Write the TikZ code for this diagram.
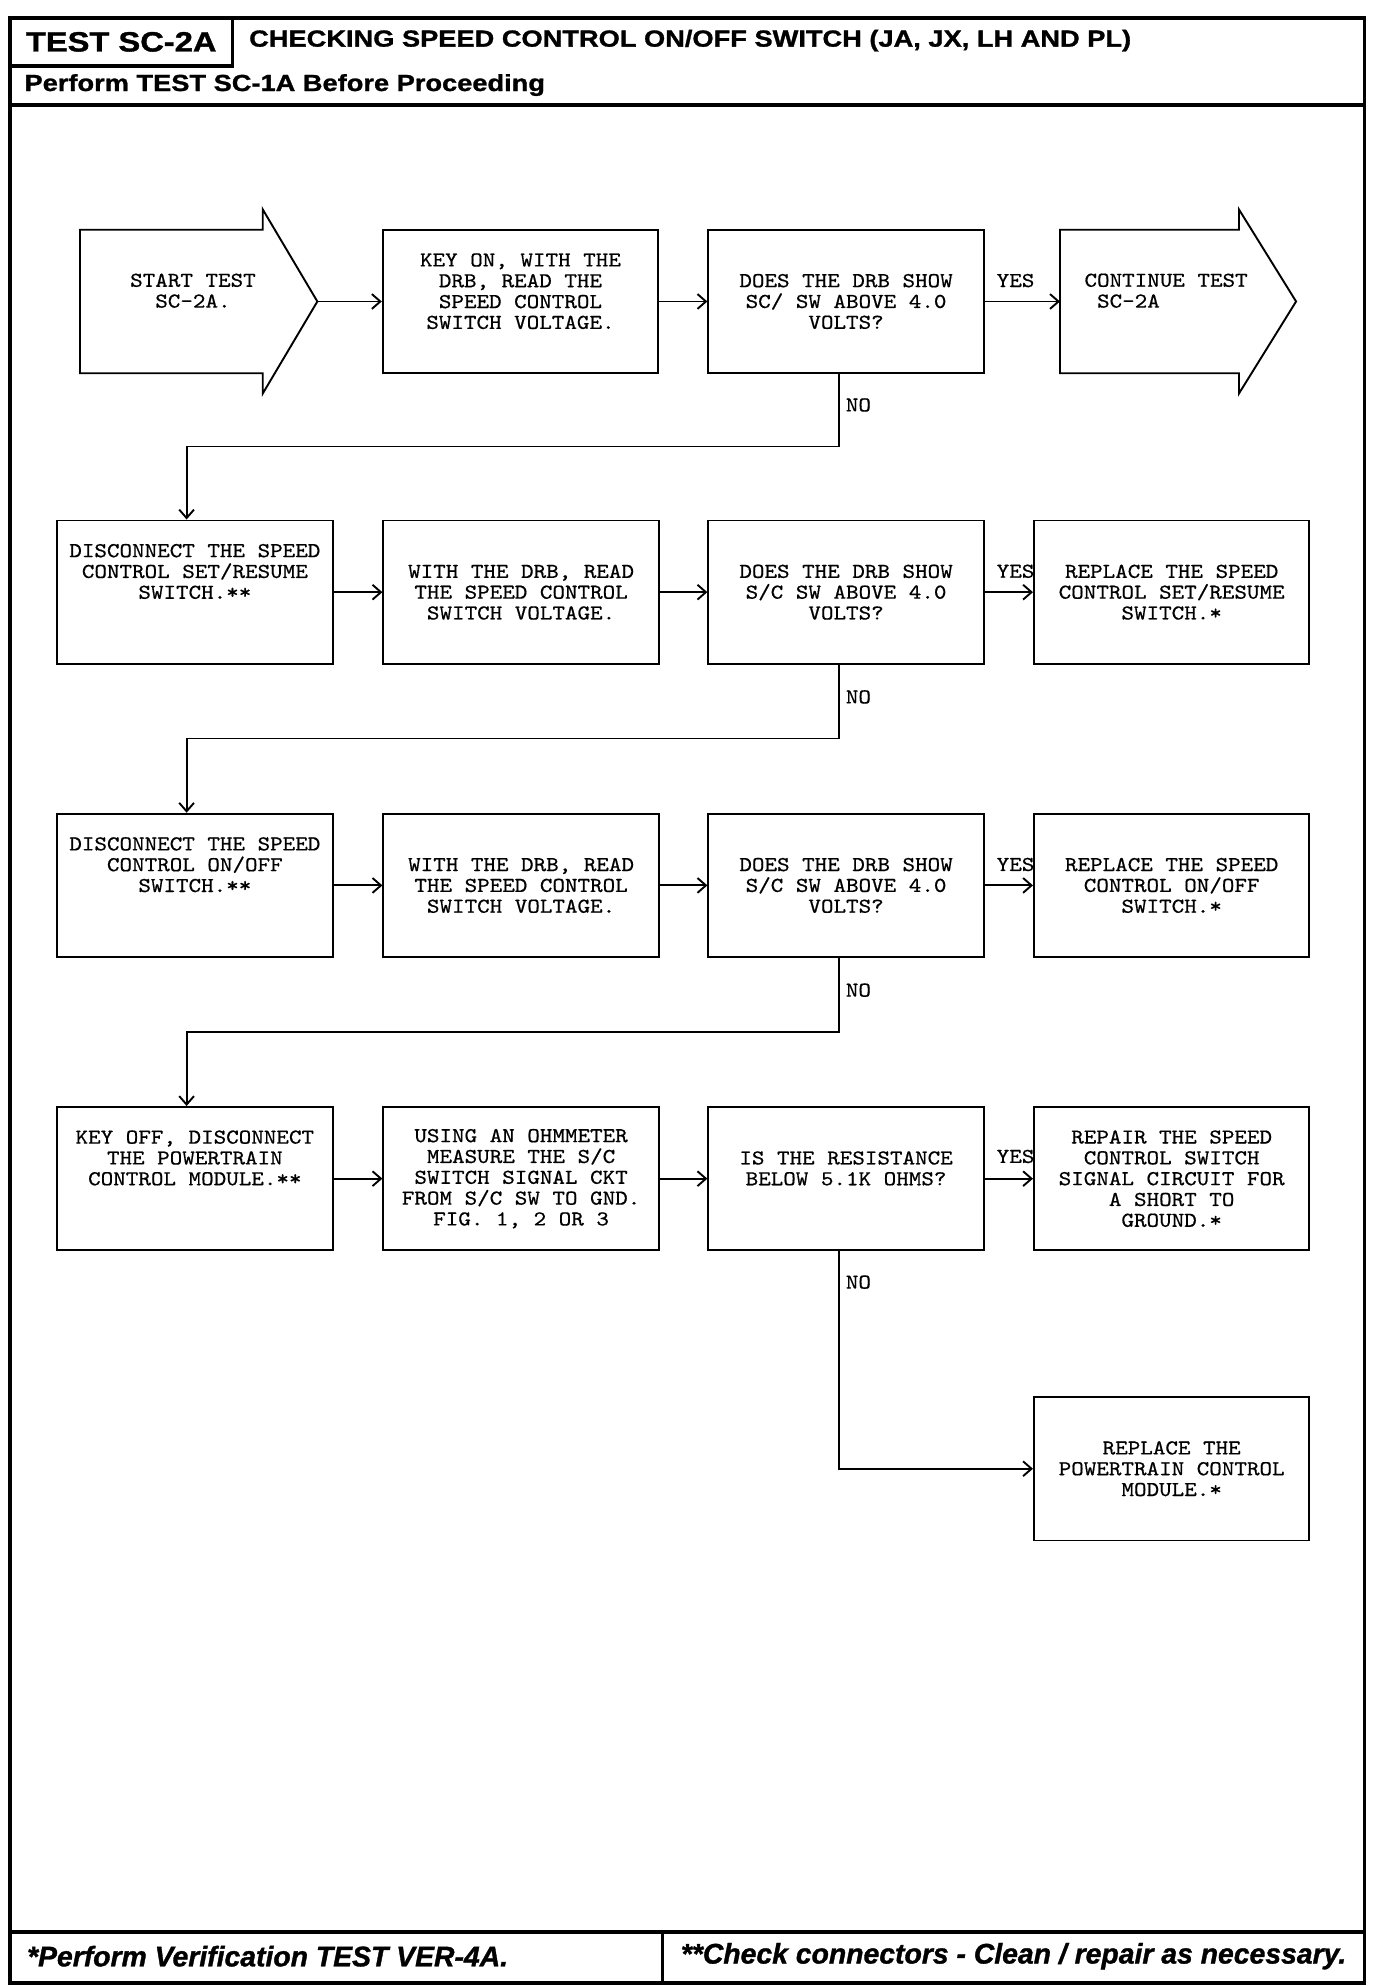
\documentclass[tikz,border=0pt]{standalone}
\usepackage{fontspec}
\newfontfamily\bxfam{lmmono10-regular}[Extension=.otf,FakeStretch=1.13,FakeBold=0.6]
\newfontfamily\hdfam{Liberation Sans}[FakeStretch=1.17,FakeBold=1.2]
\newfontfamily\ftfam{Liberation Sans}[FakeBold=1.2]
\newcommand\bxfont{\bxfam\fontsize{10pt}{9.84pt}\selectfont}
\usetikzlibrary{arrows.meta,calc}
\begin{document}
\begin{tikzpicture}[x=0.6pt,y=-0.6pt,
  box/.style={draw, line width=0.9pt, minimum width=130.2pt, minimum height=67.8pt, inner sep=0pt, align=center, font=\bxfont},
  shp/.style={draw, line width=0.9pt},
  conn/.style={line width=0.9pt, -{Straight Barb[length=4pt,width=7pt]}},
  lab/.style={font=\bxfont, inner sep=0pt},
  frm/.style={line width=1.7pt},
  hd/.style={inner sep=0pt, font=\hdfam\bfseries\fontsize{11pt}{12pt}\selectfont},
  ft/.style={inner sep=0pt, anchor=west, font=\ftfam\bfseries\itshape\fontsize{13.4pt}{14pt}\selectfont}]
\useasboundingbox (0,0) rectangle (1084,1564.5);
% frame
\draw[frm] (8,14) rectangle (1075,1562);
\draw[frm] (8,14) rectangle (183,52);
\draw[frm] (8,82.5) -- (1075,82.5);
\draw[frm] (8,1522) -- (1075,1522);
\draw[frm] (522,1522) -- (522,1562);
% header
\node[hd, font=\hdfam\bfseries\fontsize{13.2pt}{14pt}\selectfont] (hid) at (95.5,33) {TEST SC-2A};
\node[hd, anchor=west] (htitle) at (196,32) {CHECKING SPEED CONTROL ON/OFF SWITCH (JA, JX, LH AND PL)};
\node[hd, anchor=west] (hpre) at (19,67) {Perform TEST SC-1A Before Proceeding};
% footer
\node[ft] (f1) at (21,1541) {*Perform Verification TEST VER-4A.};
\node[ft] (f2) at (536,1541) {**Check connectors - Clean / repair as necessary.};
% row 1
\draw[shp] (63,181) -- (207,181) -- (207,165) -- (250,237.5) -- (207,310) -- (207,294) -- (63,294) -- cycle;
\node[lab, align=center] (s1) at (152,229) {START TEST\\SC-2A.};
\coordinate (s1tip) at (250,237.5);
\node[box] (b12) at (410,237.5) {KEY ON, WITH THE\\DRB, READ THE\\SPEED CONTROL\\SWITCH VOLTAGE.\\~};
\node[box] (b13) at (666.5,237.5) {DOES THE DRB SHOW\\SC/ SW ABOVE 4.0\\VOLTS?};
\draw[shp] (835,181) -- (976,181) -- (976,165) -- (1021,237.5) -- (976,310) -- (976,294) -- (835,294) -- cycle;
\node[lab, align=left, anchor=west] (s2) at (854,229) {CONTINUE TEST\\\ SC-2A};
\coordinate (s2in) at (835,237.5);
\draw[conn] (s1tip) -- (b12);
\draw[conn] (b12) -- (b13);
\draw[conn] (b13) -- (s2in);
\node[lab] (y1) at (800,221) {YES};
\node[lab, anchor=west] (n1) at (666,319) {NO};
% row 2
\node[box] (b21) at (153.5,466.5) {DISCONNECT THE SPEED\\CONTROL SET/RESUME\\SWITCH.**\\~\\~};
\node[box] (b22) at (410.5,466.5) {WITH THE DRB, READ\\THE SPEED CONTROL\\SWITCH VOLTAGE.};
\node[box] (b23) at (666.5,466.5) {DOES THE DRB SHOW\\S/C SW ABOVE 4.0\\VOLTS?};
\node[box] (b24) at (923,466.5) {REPLACE THE SPEED\\CONTROL SET/RESUME\\SWITCH.*};
\draw[conn] ([xshift=-3.3pt]b13.south) -- ++(0,57) -| ([xshift=-3.9pt]b21.north);
\draw[conn] (b21) -- (b22);
\draw[conn] (b22) -- (b23);
\draw[conn] (b23) -- (b24);
\node[lab] (y2) at (800,450) {YES};
\node[lab, anchor=west] (n2) at (666,549) {NO};
% row 3
\node[box] (b31) at (153.5,697.5) {DISCONNECT THE SPEED\\CONTROL ON/OFF\\SWITCH.**\\~\\~};
\node[box] (b32) at (410.5,697.5) {WITH THE DRB, READ\\THE SPEED CONTROL\\SWITCH VOLTAGE.};
\node[box] (b33) at (666.5,697.5) {DOES THE DRB SHOW\\S/C SW ABOVE 4.0\\VOLTS?};
\node[box] (b34) at (923,697.5) {REPLACE THE SPEED\\CONTROL ON/OFF\\SWITCH.*};
\draw[conn] ([xshift=-3.3pt]b23.south) -- ++(0,58) -| ([xshift=-3.9pt]b31.north);
\draw[conn] (b31) -- (b32);
\draw[conn] (b32) -- (b33);
\draw[conn] (b33) -- (b34);
\node[lab] (y3) at (800,681) {YES};
\node[lab, anchor=west] (n3) at (666,780) {NO};
% row 4
\node[box] (b41) at (153.5,928.5) {KEY OFF, DISCONNECT\\THE POWERTRAIN\\CONTROL MODULE.**\\~\\~};
\node[box] (b42) at (410.5,928.5) {USING AN OHMMETER\\MEASURE THE S/C\\SWITCH SIGNAL CKT\\FROM S/C SW TO GND.\\FIG. 1, 2 OR 3};
\node[box] (b43) at (666.5,928.5) {IS THE RESISTANCE\\BELOW 5.1K OHMS?\\~};
\node[box] (b44) at (923,928.5) {REPAIR THE SPEED\\CONTROL SWITCH\\SIGNAL CIRCUIT FOR\\A SHORT TO\\GROUND.*};
\draw[conn] ([xshift=-3.3pt]b33.south) -- ++(0,58) -| ([xshift=-3.9pt]b41.north);
\draw[conn] (b41) -- (b42);
\draw[conn] (b42) -- (b43);
\draw[conn] (b43) -- (b44);
\node[lab] (y4) at (800,911) {YES};
\node[lab, anchor=west] (n4) at (666,1010) {NO};
% row 5
\node[box] (b5) at (923,1157) {REPLACE THE\\POWERTRAIN CONTROL\\MODULE.*};
\draw[conn] ([xshift=-3.3pt]b43.south) |- (b5);
\end{tikzpicture}
\end{document}
